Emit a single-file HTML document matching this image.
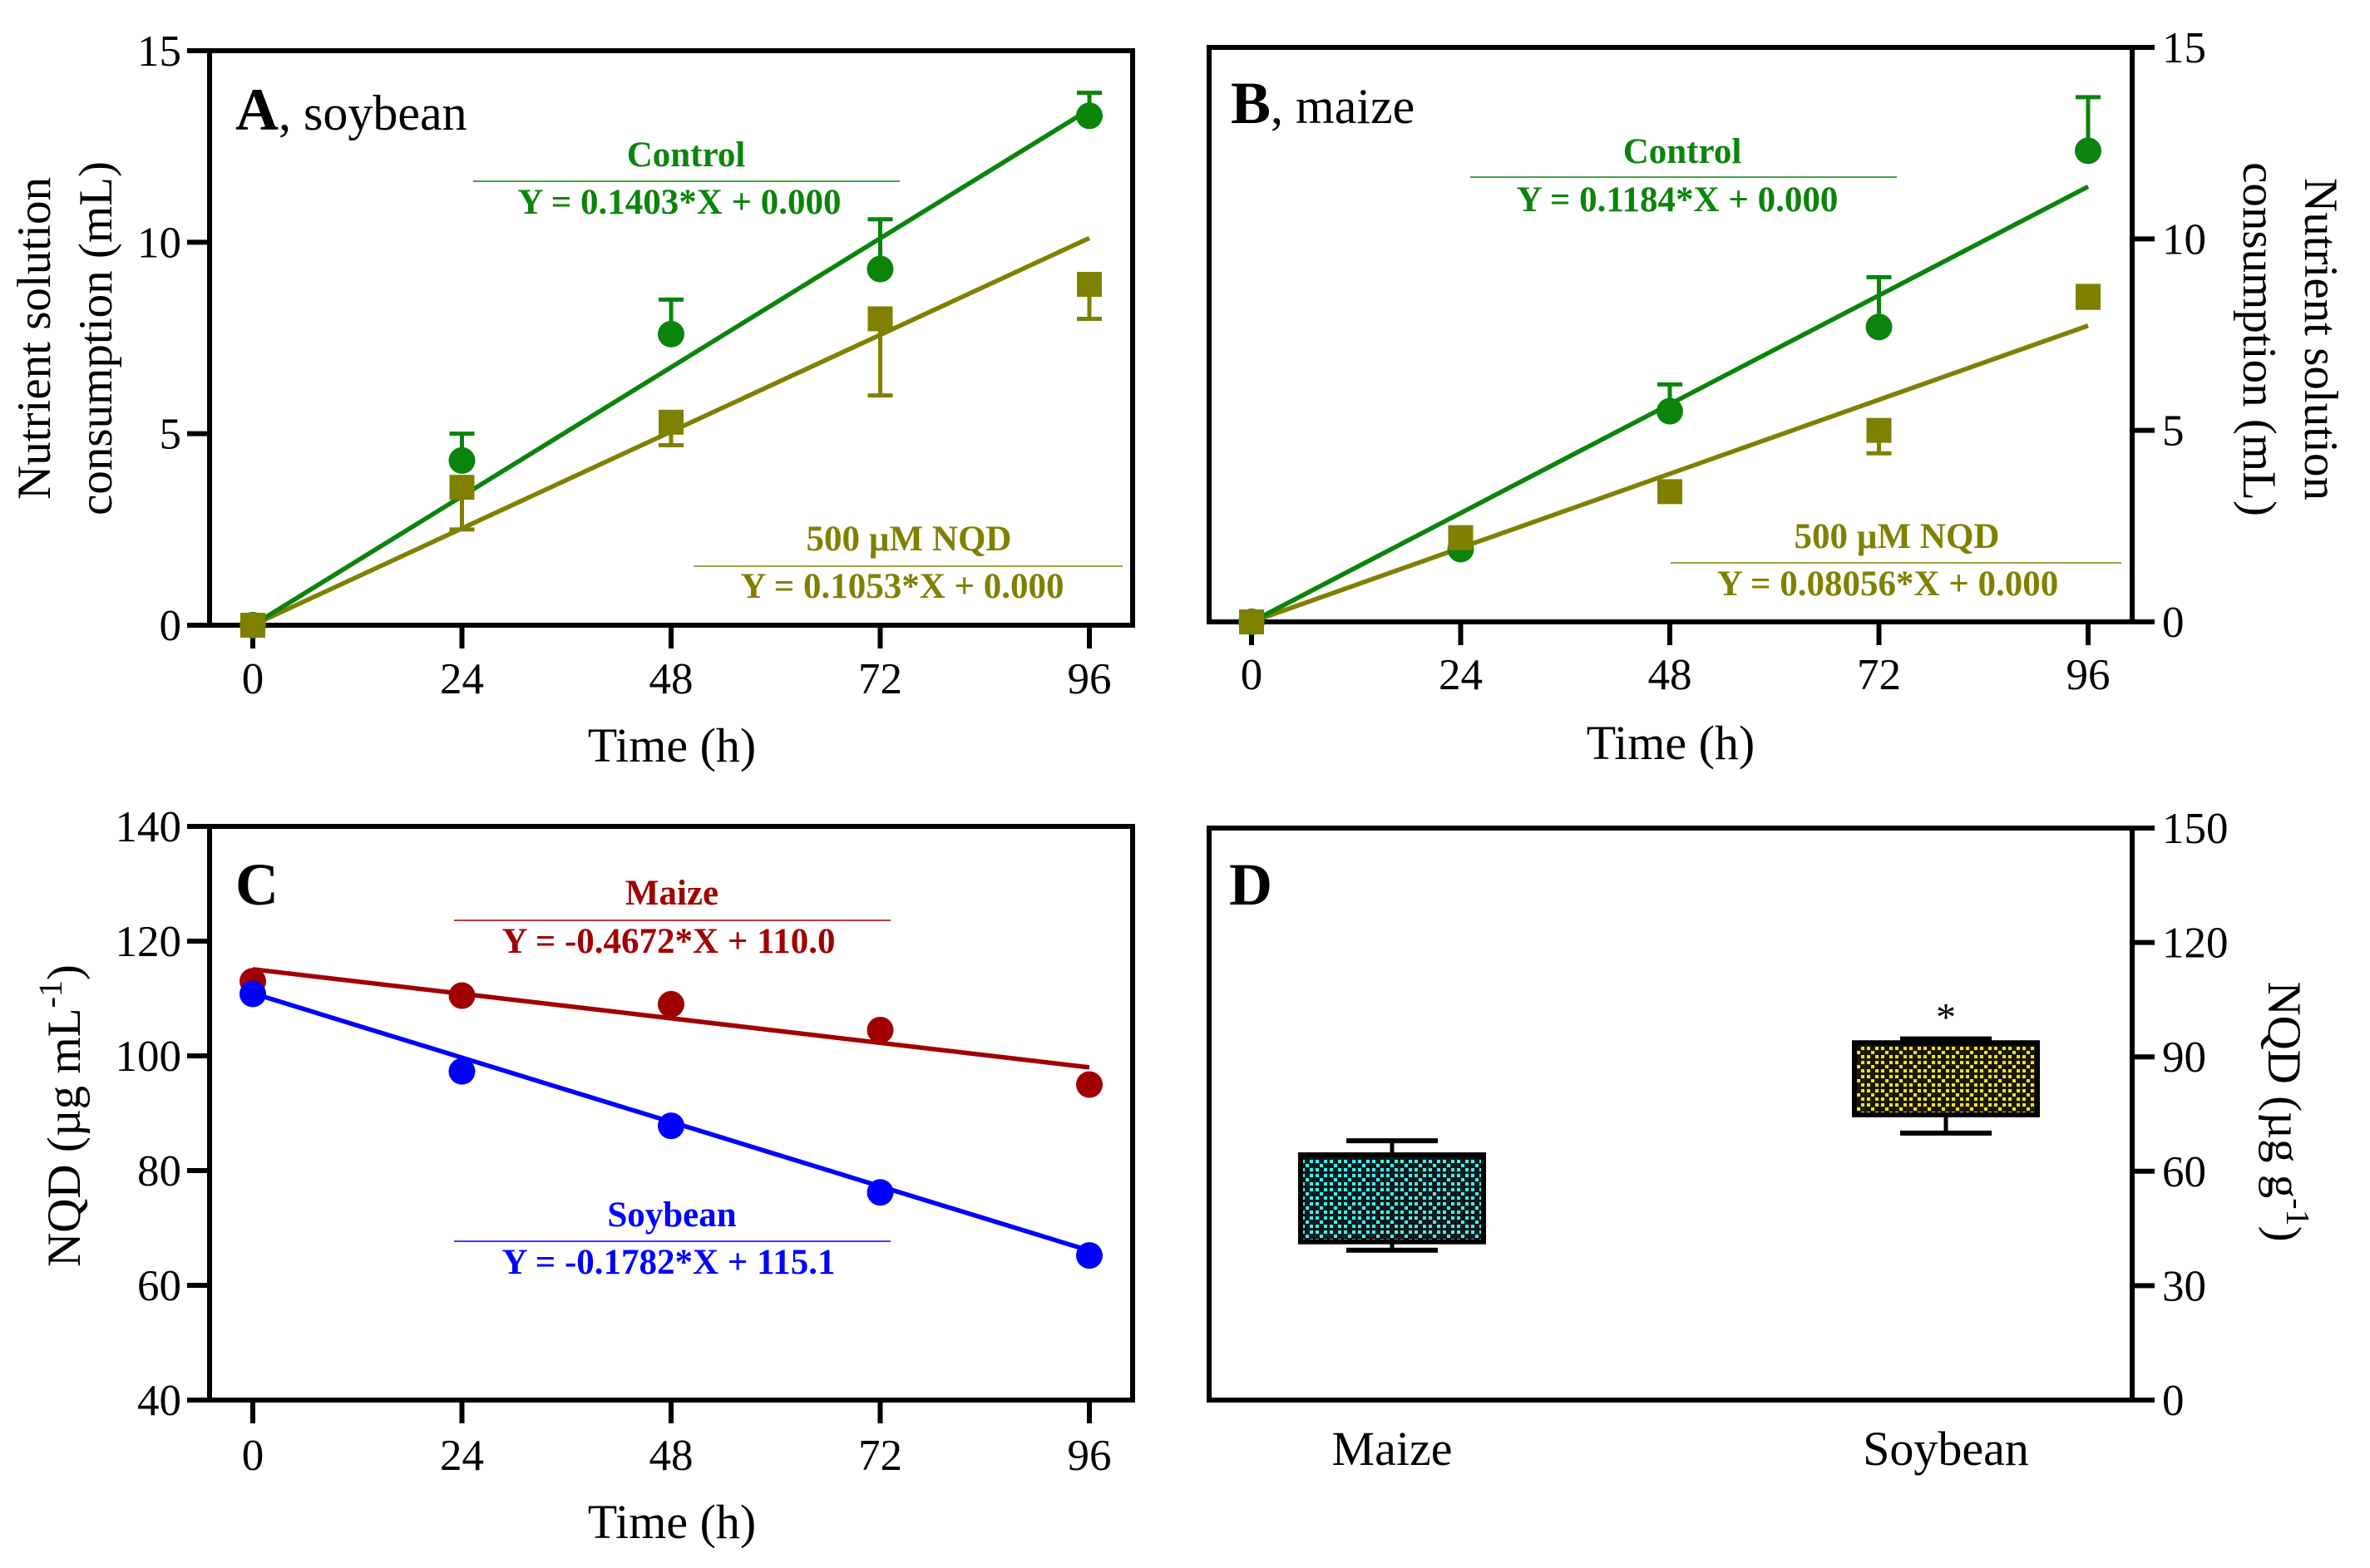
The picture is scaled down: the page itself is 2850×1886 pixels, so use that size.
<!DOCTYPE html>
<html><head><meta charset="utf-8">
<style>
html,body{margin:0;padding:0;background:#fff;}
svg{display:block;font-family:"Liberation Serif","DejaVu Serif",serif;}
</style></head>
<body>
<svg id="fig" width="2850" height="1886" viewBox="0 0 2850 1886" xmlns="http://www.w3.org/2000/svg">
<defs>
<pattern id="patCyan" width="17" height="17" patternUnits="userSpaceOnUse">
<rect width="17" height="17" fill="#101818"/>
<rect x="1" y="1" width="4" height="4" fill="#40f0f0"/><rect x="11" y="1" width="4" height="4" fill="#40f0f0"/>
<rect x="6" y="6" width="4" height="4" fill="#40f0f0"/>
<rect x="1" y="11" width="4" height="4" fill="#40f0f0"/><rect x="11" y="11" width="4" height="4" fill="#40f0f0"/>
</pattern>
<pattern id="patYellow" width="17" height="17" patternUnits="userSpaceOnUse">
<rect width="17" height="17" fill="#181800"/>
<rect x="1" y="1" width="4" height="4" fill="#f0e020"/><rect x="11" y="1" width="4" height="4" fill="#f0e020"/>
<rect x="6" y="6" width="4" height="4" fill="#f0e020"/>
<rect x="1" y="11" width="4" height="4" fill="#f0e020"/><rect x="11" y="11" width="4" height="4" fill="#f0e020"/>
</pattern>
</defs>
</svg>
<script>
// ---- data ----
const timeCats = [0, 24, 48, 72, 96];
const aControl = [0, 4.3, 7.6, 9.3, 13.3];
const aControlErr = [0, 5.0, 8.5, 10.6, 13.9];
const aNqd = [0, 3.6, 5.3, 8.0, 8.9];
const aNqdErr = [0, 2.5, 4.7, 6.0, 8.0];
const aSlopes = [0.1403, 0.1053];
const bControl = [0, 1.9, 5.5, 7.7, 12.3];
const bControlErr = [0, 1.9, 6.2, 9.0, 13.7];
const bNqd = [0, 2.2, 3.4, 5.0, 8.5];
const bNqdErr = [0, 2.2, 3.4, 4.4, 8.2];
const bSlopes = [0.1184, 0.08056];
const cMaize = [113, 110.5, 109, 104.5, 95];
const cSoy = [110.8, 97.3, 87.8, 76.2, 65.2];
const cMaizeLine = [115.1, -0.1782];
const cSoyLine = [110.9, -0.4672];
const dCats = ["Maize", "Soybean"];
const dBoxLow = [41.5, 74.8];
const dBoxHigh = [64.3, 93.7];
const dWhiskLow = [39.3, 70];
const dWhiskHigh = [68, 94.7];
const ticksA = [0, 5, 10, 15];
const ticksC = [40, 60, 80, 100, 120, 140];
const ticksD = [0, 30, 60, 90, 120, 150];

const NS = "http://www.w3.org/2000/svg";
const svg = document.getElementById("fig");
function el(tag, attrs, parent, text) {
  const e = document.createElementNS(NS, tag);
  for (const k in attrs) e.setAttribute(k, attrs[k]);
  if (text !== undefined) e.textContent = text;
  (parent || svg).appendChild(e);
  return e;
}
function mkScale(d0, d1, r0, r1) { return v => r0 + (v - d0) * (r1 - r0) / (d1 - d0); }

const GREEN = "#0b840b", OLIVE = "#808000", RED = "#a00000", BLUE = "#0000ff";

function frame(g, L, R, T, B, side, ticks, ys) {
  const f = el("rect", {x: L, y: T, width: R - L, height: B - T, fill: "none", stroke: "#000", "stroke-width": 6}, g);
  
  
  ticks.forEach(t => {
    const y = ys(t);
    const x0 = side === "left" ? L - 27 : R;
    const tk = el("line", {x1: x0, x2: x0 + 27, y1: y, y2: y, stroke: "#000", "stroke-width": 6}, g);
    
    
    const lb = el("text", {x: side === "left" ? L - 34 : R + 36, y: y + 18, "font-size": 53,
      "text-anchor": side === "left" ? "end" : "start"}, g, String(t));
    
    
  });
}
function xAxis(g, xs, B, baseline, titleX, titleY) {
  timeCats.forEach(c => {
    const x = xs(c);
    const tk = el("line", {x1: x, x2: x, y1: B, y2: B + 28, stroke: "#000", "stroke-width": 6}, g);
    
    
    const lb = el("text", {x: x, y: baseline, "font-size": 53, "text-anchor": "middle"}, g, String(c));
    
    
  });
  const t = el("text", {x: titleX, y: titleY, "font-size": 58, "text-anchor": "middle"}, g, "Time (h)");
  
  
}
function eqLabel(g, cx, y1, name, eq, color, lx1, lx2, ly, cx2, y2) {
  const a = el("text", {x: cx, y: y1, "font-size": 43, "font-weight": "bold", fill: color, "text-anchor": "middle"}, g, name);
  
  
  const l = el("line", {x1: lx1, x2: lx2, y1: ly, y2: ly, stroke: color, "stroke-width": 1.5}, g);
  
  
  const b = el("text", {x: cx2, y: y2, "font-size": 43, "font-weight": "bold", fill: color, "text-anchor": "middle"}, g, eq);
  
  
}
function fitLine(g, xs, ys, a, b, color) {
  const l = el("line", {x1: xs(0), y1: ys(a), x2: xs(96), y2: ys(a + b * 96), stroke: color, "stroke-width": 5.5}, g);
  
  
}
function errBars(g, xs, ys, vals, errs, color) {
  vals.forEach((v, i) => {
    if (Math.abs(errs[i] - v) < 0.05) return;
    const x = xs(timeCats[i]);
    const l = el("line", {x1: x, x2: x, y1: ys(v), y2: ys(errs[i]), stroke: color, "stroke-width": 5}, g);
    
    
    const c = el("line", {x1: x - 15, x2: x + 15, y1: ys(errs[i]), y2: ys(errs[i]), stroke: color, "stroke-width": 5}, g);
    
    
  });
}
function circles(g, xs, ys, vals, color) {
  vals.forEach((v, i) => {
    const c = el("ellipse", {cx: xs(timeCats[i]), cy: ys(v), rx: 16, ry: 16, fill: color}, g);
    
    
  });
}
function squares(g, xs, ys, vals, color) {
  vals.forEach((v, i) => {
    const s = el("rect", {x: xs(timeCats[i]) - 15, y: ys(v) - 15, width: 30, height: 30, fill: color}, g);
    
    
  });
}

// ---------- Panel A ----------
{
  const g = el("g", {});  
  const L = 252, R = 1362, T = 61, B = 752;
  const xs = mkScale(0, 96, 304, 1310), ys = mkScale(0, 15, B, T);
  frame(g, L, R, T, B, "left", ticksA, ys);
  xAxis(g, xs, B, 834, 808, 916);
  const lab = el("text", {x: 283, y: 156, "font-size": 60}, g);
  
  
  el("tspan", {"font-weight": "bold", "font-size": 72}, lab, "A");
  el("tspan", {}, lab, ", soybean");
  const yt = el("text", {transform: "translate(60,407) rotate(-90)", "font-size": 57, "text-anchor": "middle"}, g);
  
  
  el("tspan", {x: 0, dy: 0}, yt, "Nutrient solution");
  el("tspan", {x: 0, dy: 74}, yt, "consumption (mL)");
  fitLine(g, xs, ys, 0, aSlopes[1], OLIVE);
  fitLine(g, xs, ys, 0, aSlopes[0], GREEN);
  errBars(g, xs, ys, aControl, aControlErr, GREEN);
  errBars(g, xs, ys, aNqd, aNqdErr, OLIVE);
  circles(g, xs, ys, aControl, GREEN);
  squares(g, xs, ys, aNqd, OLIVE);
  eqLabel(g, 825, 200, "Control", "Y = 0.1403*X + 0.000", GREEN, 569, 1082, 218, 817, 257);
  eqLabel(g, 1093, 662, "500  µM NQD", "Y = 0.1053*X + 0.000", OLIVE, 834, 1350, 681, 1085, 719);
}
// ---------- Panel B ----------
{
  const g = el("g", {});  
  const L = 1454, R = 2564, T = 57, B = 748;
  const xs = mkScale(0, 96, 1505, 2511), ys = mkScale(0, 15, B, T);
  frame(g, L, R, T, B, "right", ticksA, ys);
  xAxis(g, xs, B, 829, 2009, 913);
  const lab = el("text", {x: 1480, y: 148, "font-size": 60}, g);
  
  
  el("tspan", {"font-weight": "bold", "font-size": 72}, lab, "B");
  el("tspan", {}, lab, ", maize");
  const yt = el("text", {transform: "translate(2772,408) rotate(90)", "font-size": 57, "text-anchor": "middle"}, g);
  
  
  el("tspan", {x: 0, dy: 0}, yt, "Nutrient solution");
  el("tspan", {x: 0, dy: 74}, yt, "consumption (mL)");
  fitLine(g, xs, ys, 0, bSlopes[1], OLIVE);
  fitLine(g, xs, ys, 0, bSlopes[0], GREEN);
  errBars(g, xs, ys, bControl, bControlErr, GREEN);
  errBars(g, xs, ys, bNqd, bNqdErr, OLIVE);
  circles(g, xs, ys, bControl, GREEN);
  squares(g, xs, ys, bNqd, OLIVE);
  eqLabel(g, 2023, 196, "Control", "Y = 0.1184*X + 0.000", GREEN, 1768, 2281, 213, 2017, 254);
  eqLabel(g, 2281, 659, "500  µM NQD", "Y = 0.08056*X + 0.000", OLIVE, 2009, 2551, 677, 2270, 716);
}
// ---------- Panel C ----------
{
  const g = el("g", {});  
  const L = 252, R = 1362, T = 994, B = 1684;
  const xs = mkScale(0, 96, 304, 1310), ys = mkScale(40, 140, B, T);
  frame(g, L, R, T, B, "left", ticksC, ys);
  xAxis(g, xs, B, 1768, 808, 1850);
  const lab = el("text", {x: 283, y: 1088, "font-size": 72, "font-weight": "bold"}, g, "C");
  
  
  const yt = el("text", {transform: "translate(96,1342) rotate(-90)", "font-size": 57, "text-anchor": "middle"}, g);
  
  
  el("tspan", {}, yt, "NQD (µg mL");
  el("tspan", {dy: -22, "font-size": 40}, yt, "-1");
  el("tspan", {dy: 22}, yt, ")");
  fitLine(g, xs, ys, cMaizeLine[0], cMaizeLine[1], RED);
  fitLine(g, xs, ys, cSoyLine[0], cSoyLine[1], BLUE);
  circles(g, xs, ys, cMaize, RED);
  circles(g, xs, ys, cSoy, BLUE);
  eqLabel(g, 808, 1088, "Maize", "Y = -0.4672*X + 110.0", RED, 546, 1071, 1107, 804, 1146);
  eqLabel(g, 808, 1475, "Soybean", "Y = -0.1782*X + 115.1", BLUE, 546, 1071, 1493, 804, 1532);
}
// ---------- Panel D ----------
{
  const g = el("g", {});  
  const L = 1454, R = 2564, T = 996, B = 1684;
  const ys = mkScale(0, 150, B, T);
  const xs = i => 1674 + i * 666;
  frame(g, L, R, T, B, "right", ticksD, ys);
  const lab = el("text", {x: 1478, y: 1088, "font-size": 72, "font-weight": "bold"}, g, "D");
  
  
  const yt = el("text", {transform: "translate(2728,1337) rotate(90)", "font-size": 57, "text-anchor": "middle"}, g);
  
  
  el("tspan", {}, yt, "NQD (µg g");
  el("tspan", {dy: -22, "font-size": 40}, yt, "-1");
  el("tspan", {dy: 22}, yt, ")");
  const fills = ["url(#patCyan)", "url(#patYellow)"];
  dCats.forEach((c, i) => {
    const x = xs(i);
    const w = el("line", {x1: x, x2: x, y1: ys(dWhiskLow[i]), y2: ys(dWhiskHigh[i]), stroke: "#000", "stroke-width": 5}, g);
    
    
    [dWhiskLow[i], dWhiskHigh[i]].forEach(v => {
      const cp = el("line", {x1: x - 55, x2: x + 55, y1: ys(v), y2: ys(v), stroke: "#000", "stroke-width": 6}, g);
      
      
    });
    const b = el("rect", {x: x - 110, y: ys(dBoxHigh[i]), width: 220, height: ys(dBoxLow[i]) - ys(dBoxHigh[i]),
      fill: fills[i], stroke: "#000", "stroke-width": 6}, g);
    
    
    const t = el("text", {x: x, y: 1762, "font-size": 58, "text-anchor": "middle"}, g, c);
    
    
  });
  const st = el("text", {x: xs(1), y: ys(dWhiskHigh[1]) - 10, "font-size": 48, "text-anchor": "middle"}, g, "*");
  
  
}
</script>
</body></html>
